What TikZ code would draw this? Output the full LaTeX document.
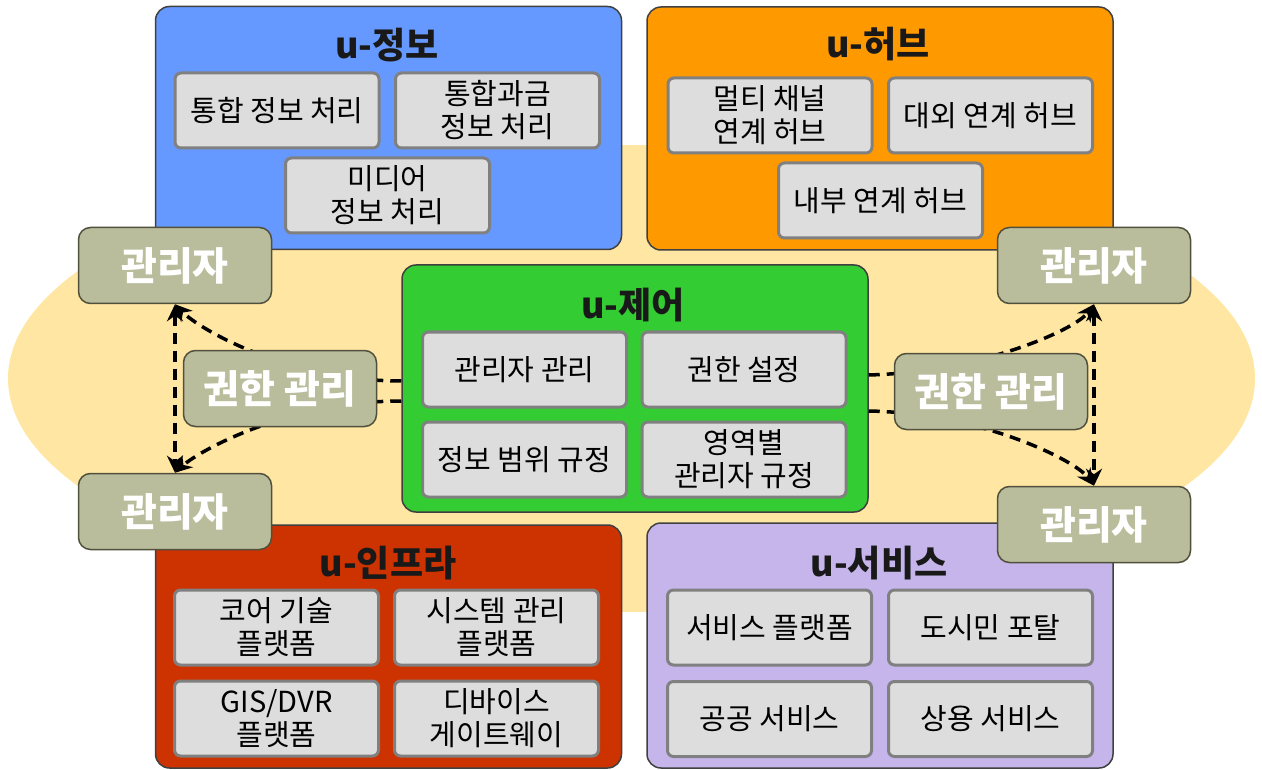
\documentclass[tikz,border=0pt]{standalone}
\usepackage{fontspec}
\setmainfont{Noto Sans CJK KR}
\usetikzlibrary{arrows.meta}
\definecolor{bgyellow}{RGB}{255,230,163}
\definecolor{infoblue}{RGB}{102,153,255}
\definecolor{huborange}{RGB}{255,153,0}
\definecolor{ctrlgreen}{RGB}{51,204,51}
\definecolor{infrared}{RGB}{204,51,0}
\definecolor{svcpurple}{RGB}{197,181,235}
\definecolor{subgray}{RGB}{221,221,221}
\definecolor{subedge}{RGB}{128,128,128}
\definecolor{mgrfill}{RGB}{185,189,156}
\definecolor{mgredge}{RGB}{80,80,60}
\pgfdeclarelayer{back}
\pgfdeclarelayer{links}
\pgfsetlayers{back,links,main}
\begin{document}
\begin{tikzpicture}[x=1pt,y=-1pt,
  outerbox/.style={draw=black!75, line width=1.5pt, rounded corners=14pt, inner sep=0pt, minimum width=466pt, minimum height=243pt},
  ttl/.style={font=\fontsize{36}{40}\selectfont\bfseries, text=black!90, inner sep=0pt},
  subbox/.style={fill=subgray, draw=subedge, line width=3pt, rounded corners=6pt, minimum width=204pt, minimum height=75pt, inner sep=0pt, align=center, font=\fontsize{29}{33}\selectfont},
  mgr/.style={fill=mgrfill, draw=mgredge, line width=1.5pt, rounded corners=12pt, minimum width=193pt, minimum height=76pt, inner sep=0pt, font=\fontsize{39}{43}\selectfont\bfseries, text=white},
  conn/.style={draw=black, line width=3.5pt, dash pattern=on 11pt off 7pt, -{Stealth[length=17pt,width=16pt]}},
  conn2/.style={draw=black, line width=3.5pt, dash pattern=on 11pt off 7pt, {Stealth[length=17pt,width=16pt]}-{Stealth[length=17pt,width=16pt]}}
]
\useasboundingbox (0,0) rectangle (1262,770);

\begin{pgfonlayer}{back}
\fill[bgyellow] (631.5,378.5) ellipse [x radius=623.5, y radius=233.5];

% u-정보
\node[outerbox, fill=infoblue] (info) at (388.5,128) {};
\node[ttl] (infoT) at (387,45) {u-정보};
\node[subbox] (info1) at (277,110.5) {통합 정보 처리};
\node[subbox] (info2) at (497.5,110.5) {통합과금\\정보 처리};
\node[subbox] (info3) at (387.5,195.5) {미디어\\정보 처리};

% u-허브
\node[outerbox, fill=huborange] (hub) at (880,128.5) {};
\node[ttl] (hubT) at (878,44) {u-허브};
\node[subbox] (hub1) at (770,115.5) {멀티 채널\\연계 허브};
\node[subbox] (hub2) at (990.5,115.5) {대외 연계 허브};
\node[subbox] (hub3) at (880.5,200.5) {내부 연계 허브};

% u-제어
\node[outerbox, fill=ctrlgreen, minimum height=247pt] (ctrl) at (635,388.5) {};
\node[ttl] (ctrlT) at (633,305) {u-제어};
\node[subbox] (ctrl1) at (524.5,369.5) {관리자 관리};
\node[subbox] (ctrl2) at (744,369.5) {권한 설정};
\node[subbox] (ctrl3) at (524.5,459.5) {정보 범위 규정};
\node[subbox] (ctrl4) at (744,459.5) {영역별\\관리자 규정};

% u-인프라
\node[outerbox, fill=infrared] (infra) at (388.5,646.5) {};
\node[ttl] (infraT) at (388,563) {u-인프라};
\node[subbox] (infra1) at (276.5,627.5) {코어 기술\\플랫폼};
\node[subbox] (infra2) at (496.5,627.5) {시스템 관리\\플랫폼};
\node[subbox] (infra3) at (276.5,718.5) {GIS/DVR\\플랫폼};
\node[subbox] (infra4) at (496.5,718.5) {디바이스\\게이트웨이};

% u-서비스
\node[outerbox, fill=svcpurple, minimum height=245pt] (svc) at (880,645.5) {};
\node[ttl] (svcT) at (879,563) {u-서비스};
\node[subbox] (svc1) at (769.5,627.5) {서비스 플랫폼};
\node[subbox] (svc2) at (990.5,627.5) {도시민 포탈};
\node[subbox] (svc3) at (769.5,719) {공공 서비스};
\node[subbox] (svc4) at (990.5,719) {상용 서비스};
\end{pgfonlayer}

% managers and permission boxes
\node[mgr] (mTL) at (175,265.5) {관리자};
\node[mgr] (mBL) at (175,511.5) {관리자};
\node[mgr] (mTR) at (1094,265.5) {관리자};
\node[mgr] (mBR) at (1094,524.5) {관리자};
\node[mgr] (permL) at (280,388.5) {권한 관리};
\node[mgr] (permR) at (991,391.5) {권한 관리};

\begin{pgfonlayer}{links}
\draw[conn] ([yshift=7.5pt]ctrl.west) .. controls (290,381) and (200,330) .. (mTL.south);
\draw[conn] ([yshift=-12.5pt]ctrl.west) .. controls (290,401) and (200,450) .. (mBL.north);
\draw[conn2] (mTL.south) -- (mBL.north);
\draw[conn] ([yshift=13.5pt]ctrl.east) .. controls (980,372) and (1075,330) .. (mTR.south);
\draw[conn] ([yshift=-22.5pt]ctrl.east) .. controls (980,413) and (1075,460) .. (mBR.north);
\draw[conn2] (mTR.south) -- (mBR.north);
\end{pgfonlayer}
\end{tikzpicture}
\end{document}
